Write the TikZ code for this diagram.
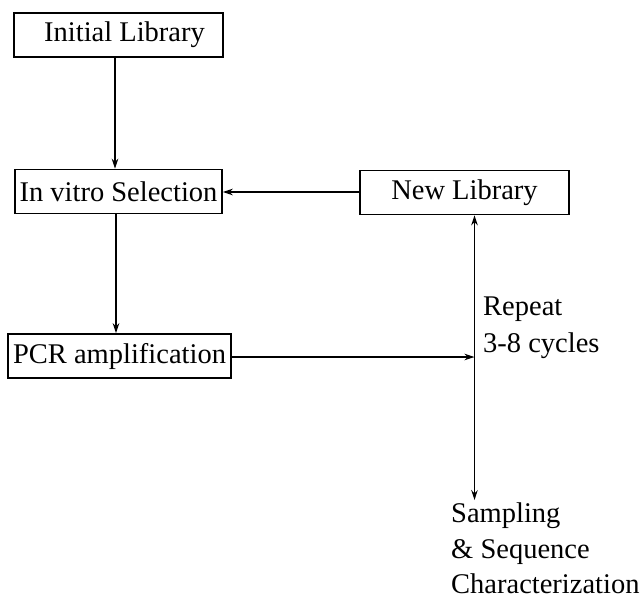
\documentclass[tikz,border=0pt]{standalone}
\usepackage{fontspec}
\setmainfont{Liberation Serif}
\usetikzlibrary{arrows.meta}
\begin{document}
\begin{tikzpicture}[x=1pt,y=1pt,
  every node/.style={font=\fontsize{28.5}{36.5}\selectfont},
  box/.style={draw, line width=1.5pt, inner sep=0pt, minimum height=44pt},
  lbl/.style={anchor=base west, inner sep=0pt},
  arr/.style={line width=1.2pt, -{Stealth[length=10pt,width=6.5pt]}},
  ln/.style={line width=1.2pt}]
\useasboundingbox (0,0) rectangle (644,-598);
\node[box, minimum width=209pt] (init) at (118.5,-35) {\hspace{12pt}Initial Library};
\node[box, minimum width=207pt] (sel) at (118.5,-191.5) {In vitro Selection};
\node[box, minimum width=223pt] (pcr) at (119.5,-356) {PCR amplification};
\node[box, minimum width=209pt] (new) at (464.5,-192.5) {New Library};
\coordinate (j) at (474.5,-357);
\node[lbl] (rep1) at (483,-315) {Repeat};
\node[lbl] (rep2) at (483,-352) {3-8 cycles};
\node[lbl] (samp1) at (451,-522) {Sampling};
\node[lbl] (samp2) at (451,-558) {\& Sequence};
\node[lbl] (samp3) at (451,-593) {Characterization};
\draw[arr] (init.south -| 115,0) -- (sel.north -| 115,0);
\draw[arr] (sel.south -| 116,0) -- (pcr.north -| 116,0);
\draw[arr] (new.west |- 0,-192) -- (sel.east |- 0,-192);
\draw[arr] (pcr.east |- j) -- (j);
\draw[arr] (j) -- (new.south -| j);
\draw[arr] (j) -- ([yshift=2pt]samp1.north -| j);
\end{tikzpicture}
\end{document}
